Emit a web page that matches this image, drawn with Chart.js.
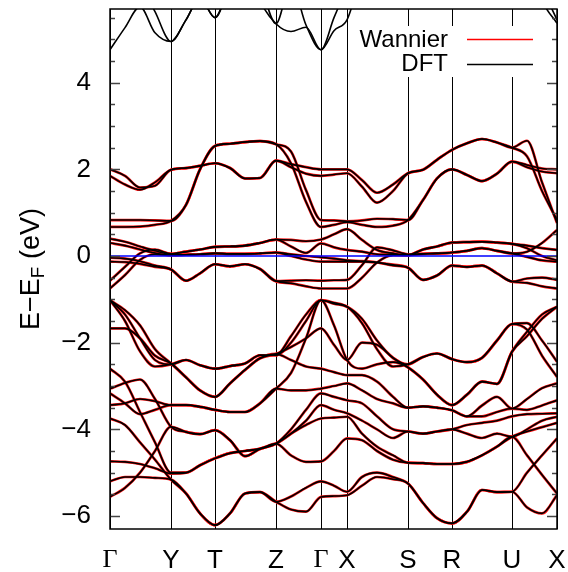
<!DOCTYPE html>
<html>
<head>
<meta charset="utf-8">
<script src="https://cdn.jsdelivr.net/npm/chart.js@4.4.1/dist/chart.umd.min.js"></script>
<style>
  html, body { margin: 0; padding: 0; background: #fff; }
</style>
</head>
<body>
<canvas id="bands" width="568" height="572"></canvas>
<script>
// high symmetry points along the k-path
const kLabels = ["Γ", "Y", "T", "Z", "Γ", "X", "S", "R", "U", "X"];
const kTicks = [0, 61, 105, 166, 211, 237, 298, 342, 402, 447];
const yTicks = [-6, -4, -2, 0, 2, 4];

// k positions where energies were read (Γ-Y | Y-T | T-Z | Z-Γ | Γ-X | X-S | S-R | R-U | U-X)
const kGrid = [0,15,30,45,61, 76,90,105, 120,135,150,166, 181,196,211, 224,237, 252,267,283,298, 313,327,342, 357,372,387,402, 417,432,447];

// conduction bands (eV)
const U1 = [2.00,1.85,1.58,1.62,1.99, 2.03,2.08,2.14, 2.03,1.79,1.80,2.20, 2.12,2.05,2.00, 2.00,2.00, 1.75,1.46,1.65,1.91, 1.99,2.22,2.45, 2.60,2.70,2.62,2.50, 2.66,1.70,0.76];
const U2 = [1.85,1.65,1.53,1.70,1.99, 2.03,2.08,2.14, 2.03,1.79,1.80,2.20, 2.05,1.90,1.85, 1.88,1.91, 1.60,1.23,1.50,1.91, 1.99,2.22,2.45, 2.60,2.70,2.62,2.50, 2.30,1.50,0.83];
const C1 = [0.83,0.83,0.83,0.82,0.81, 1.18,2.00,2.54, 2.59,2.63,2.65,2.58, 2.41,1.52,0.83, 0.82,0.80, 0.82,0.86,0.85,0.83, 1.29,1.79,2.00, 1.87,1.73,1.90,2.18, 2.10,2.02,2.00];
const C2 = [0.67,0.67,0.68,0.72,0.81, 1.18,2.00,2.54, 2.59,2.63,2.65,2.58, 2.14,1.25,0.67, 0.72,0.78, 0.72,0.67,0.70,0.83, 1.29,1.79,2.00, 1.87,1.73,1.90,2.18, 2.05,1.95,1.91];

// bands around the Fermi level
const N1 = [0.40,0.33,0.22,0.12,0.05, 0.10,0.15,0.21, 0.22,0.24,0.30,0.38, 0.37,0.34,0.38, 0.50,0.62, 0.37,0.14,0.06,0.02, 0.15,0.22,0.31, 0.32,0.33,0.31,0.28, 0.24,0.18,0.14];
const N2 = [0.30,0.24,0.15,0.07,0.02, 0.03,0.04,0.06, 0.05,0.05,0.06,0.08, 0.04,0.00,-0.03, -0.06,-0.10, -0.12,-0.15,-0.22,-0.27, -0.55,-0.45,-0.22, -0.25,-0.22,-0.40,-0.59, -0.52,-0.50,-0.55];
const N3 = [-0.04,-0.06,-0.12,-0.22,-0.31, -0.57,-0.40,-0.19, -0.24,-0.19,-0.30,-0.58, -0.57,-0.56,-0.57, -0.56,-0.55, -0.21,0.20,0.13,0.04, 0.05,0.06,0.08, 0.12,0.18,0.12,0.06, 0.10,0.30,0.60];
const N4 = [-0.13,-0.14,-0.18,-0.25,-0.31, -0.57,-0.40,-0.19, -0.24,-0.19,-0.30,-0.58, -0.63,-0.70,-0.75, -0.75,-0.75, -0.50,-0.15,0.02,0.02, 0.05,0.06,0.08, 0.12,0.18,0.12,0.06, -0.02,-0.10,-0.13];
const N5 = [-0.57,-0.25,0.06,0.15,0.05, 0.10,0.15,0.21, 0.22,0.24,0.30,0.38, 0.22,0.07,0.29, 0.20,0.14, 0.10,0.04,0.03,0.02, 0.15,0.22,0.31, 0.32,0.33,0.31,0.28, 0.18,0.00,-0.10];
const N6 = [-0.75,-0.44,-0.09,0.04,0.02, 0.03,0.04,0.06, 0.05,0.05,0.06,0.08, 0.00,-0.08,-0.13, -0.13,-0.13, -0.13,-0.15,-0.20,-0.27, -0.55,-0.45,-0.22, -0.25,-0.22,-0.40,-0.59, -0.62,-0.70,-0.75];

// valence bands
const VA = [-1.02,-1.35,-1.90,-2.40,-2.50, -2.40,-2.52,-2.60, -2.54,-2.48,-2.29,-2.29, -2.00,-1.50,-1.02, -1.10,-1.17, -1.45,-1.95,-2.35,-2.50, -2.33,-2.25,-2.38, -2.45,-2.35,-1.95,-1.57, -1.55,-1.95,-2.44];
const VB = [-1.02,-1.50,-2.20,-2.55,-2.50, -2.40,-2.52,-2.60, -2.54,-2.48,-2.29,-2.29, -1.85,-1.35,-1.02, -1.08,-1.17, -1.55,-2.15,-2.55,-2.50, -2.33,-2.25,-2.38, -2.45,-2.35,-1.95,-1.57, -1.70,-2.30,-2.79];
const VC = [-1.02,-1.25,-1.60,-2.15,-2.48, -2.80,-3.10,-3.25, -2.94,-2.63,-2.36,-2.26, -2.10,-1.90,-1.67, -2.05,-2.40, -2.00,-2.05,-2.35,-2.57, -2.85,-3.20,-3.44, -3.20,-2.90,-2.95,-2.21, -1.85,-1.45,-1.17];
const VD = [-1.67,-1.67,-1.90,-2.30,-2.48, -2.80,-3.10,-3.25, -2.94,-2.63,-2.36,-2.26, -2.40,-2.55,-2.60, -2.68,-2.75, -2.75,-2.90,-3.25,-3.50, -3.47,-3.50,-3.56, -3.70,-3.45,-3.25,-3.52, -3.30,-3.05,-2.94];
const VE = [-2.60,-2.90,-3.60,-4.30,-5.00, -5.00,-4.83,-4.67, -4.55,-4.50,-4.45,-4.33, -4.10,-3.90,-3.75, -3.73,-3.71, -4.10,-4.40,-4.60,-4.77, -4.78,-4.80,-4.80, -4.75,-4.60,-4.40,-4.17, -4.60,-5.05,-5.48];
const VF = [-3.06,-2.93,-2.85,-3.30,-3.94, -4.06,-4.11,-4.02, -4.25,-4.62,-4.45,-4.33, -4.00,-3.55,-3.17, -3.25,-3.33, -3.40,-3.70,-4.00,-4.05, -4.10,-4.05,-4.00, -3.90,-3.85,-3.80,-3.70, -3.65,-3.64,-3.63];
const VG = [-3.17,-3.40,-3.65,-3.55,-3.44, -3.44,-3.48,-3.55, -3.60,-3.60,-3.40,-3.06, -2.70,-1.90,-1.02, -1.60,-2.40, -2.60,-2.50,-2.45,-2.57, -2.85,-3.20,-3.44, -3.20,-2.90,-2.95,-2.21, -1.75,-1.35,-1.17];
const VH = [-3.44,-3.40,-3.30,-3.35,-3.44, -3.44,-3.48,-3.55, -3.60,-3.60,-3.40,-3.06, -3.10,-3.10,-3.06, -3.00,-2.94, -3.10,-3.30,-3.40,-3.50, -3.47,-3.50,-3.56, -3.70,-3.70,-3.60,-3.52, -3.55,-3.45,-3.33];
const VI = [-3.75,-3.90,-4.30,-4.70,-5.16, -5.48,-5.94,-6.21, -5.94,-5.48,-5.45,-5.67, -5.85,-5.90,-5.56, -5.54,-5.52, -5.30,-5.10,-5.15,-5.25, -5.70,-6.05,-6.17, -5.90,-5.40,-5.45,-5.44, -5.80,-5.94,-5.52];
const VJ = [-4.74,-4.75,-4.80,-4.90,-5.02, -5.00,-4.83,-4.67, -4.55,-4.50,-4.45,-4.33, -4.60,-4.75,-4.74, -4.50,-4.21, -4.25,-4.50,-4.70,-4.77, -4.78,-4.80,-4.80, -4.75,-4.60,-4.40,-4.17, -4.05,-3.95,-3.85];
const VK = [-5.20,-5.10,-5.10,-5.12,-5.16, -5.48,-5.94,-6.21, -5.94,-5.48,-5.45,-5.67, -5.55,-5.35,-5.20, -5.30,-5.44, -5.10,-5.00,-5.10,-5.25, -5.70,-6.05,-6.17, -5.90,-5.40,-5.45,-5.44, -5.00,-4.60,-4.21];
const VL = [-5.56,-5.35,-5.00,-4.50,-3.94, -4.06,-4.11,-4.02, -4.25,-4.62,-4.45,-4.33, -4.10,-3.80,-3.44, -3.55,-3.63, -3.80,-4.00,-4.20,-4.05, -4.10,-4.05,-4.00, -4.10,-4.20,-4.10,-4.17, -4.00,-3.80,-3.71];

// high DFT bands (no Wannier counterpart), values above the frame get clipped
const H1 = [4.76,5.27,5.75,5.15,4.95, 5.45,5.95,5.50, 6.30,7.00,5.90,5.36, 5.18,5.28,4.76, 5.50,6.20, 7,7,7,7, 7,7,7, 7,7,7,7, 7,5.90,5.37];
const H2 = [7.00,7.00,6.30,5.64,4.95, 5.45,5.95,5.50, 6.30,7.00,6.30,5.36, 6.30,5.33,4.76, 5.20,5.45, 6.50,7,7,7, 7,7,7, 7,7,7,7, 7,6.20,5.45];

const wannierBands = [U1, U2, C1, C2, N1, N2, N3, N4, N5, N6, VA, VB, VC, VD, VE, VF, VG, VH, VI, VJ, VK, VL];
const dftBands = [...wannierBands, H1, H2];

const SANS = "'Liberation Sans', Arial, sans-serif";
const SERIF = "'Liberation Serif', 'Times New Roman', serif";

const toPts = arr => arr.map((e, i) => ({ x: kGrid[i], y: e }));

function bandSet(arr, color, width, order) {
  return {
    data: toPts(arr),
    borderColor: color,
    borderWidth: width,
    pointRadius: 0,
    cubicInterpolationMode: "monotone",
    fill: false,
    order
  };
}

const datasets = [
  {
    data: [{ x: 0, y: 0 }, { x: 447, y: 0 }],
    borderColor: "#0000ff",
    borderWidth: 1.3,
    pointRadius: 0,
    order: 0
  },
  ...dftBands.map(b => bandSet(b, "#000000", 1.6, 1)),
  ...wannierBands.map(b => bandSet(b, "#ff1010", 2.7, 2))
];

// frame and inner ticks on both sides
const framePlugin = {
  id: "frame",
  afterDatasetsDraw(chart) {
    const { ctx, chartArea: a, scales: { y } } = chart;
    ctx.save();
    ctx.strokeStyle = "#444";
    ctx.lineWidth = 1.5;
    for (let v = -6; v <= 5.5; v += 0.5) {
      const py = Math.round(y.getPixelForValue(v)) + 0.5;
      const len = Number.isInteger(v / 2) ? 10 : 5;
      ctx.beginPath();
      ctx.moveTo(a.left, py); ctx.lineTo(a.left + len, py);
      ctx.moveTo(a.right, py); ctx.lineTo(a.right - len, py);
      ctx.stroke();
    }
    ctx.strokeStyle = "#000";
    ctx.lineWidth = 1.5;
    ctx.strokeRect(a.left, a.top, a.right - a.left, a.bottom - a.top);
    ctx.restore();
  }
};

// legend box at top right, gnuplot style (text then sample)
const legendPlugin = {
  id: "keyBox",
  afterDraw(chart) {
    const ctx = chart.ctx;
    ctx.save();
    ctx.fillStyle = "#fff";
    ctx.fillRect(354, 26, 186, 51);
    ctx.font = "24px " + SANS;
    ctx.fillStyle = "#000";
    ctx.textAlign = "right";
    ctx.textBaseline = "middle";
    ctx.fillText("Wannier", 448, 40);
    ctx.fillText("DFT", 448, 64);
    ctx.lineWidth = 1.3;
    ctx.strokeStyle = "#ff0000";
    ctx.beginPath(); ctx.moveTo(467, 39.5); ctx.lineTo(533, 39.5); ctx.stroke();
    ctx.strokeStyle = "#000";
    ctx.beginPath(); ctx.moveTo(467, 64.5); ctx.lineTo(533, 64.5); ctx.stroke();
    ctx.restore();
  }
};

// rotated y title with subscript F
const yTitlePlugin = {
  id: "yTitle",
  afterDraw(chart) {
    const ctx = chart.ctx;
    const big = "27px " + SANS, small = "19px " + SANS;
    const parts = [["E\u2212E", big, 0], ["F", small, 7], [" (eV)", big, 0]];
    ctx.save();
    ctx.translate(32, 269);
    ctx.rotate(-Math.PI / 2);
    ctx.fillStyle = "#000";
    ctx.textBaseline = "middle";
    ctx.textAlign = "left";
    let total = 0;
    parts.forEach(p => { ctx.font = p[1]; total += ctx.measureText(p[0]).width; });
    let x = -total / 2;
    parts.forEach(p => {
      ctx.font = p[1];
      ctx.fillText(p[0], x, p[2]);
      x += ctx.measureText(p[0]).width;
    });
    ctx.restore();
  }
};

new Chart(document.getElementById("bands"), {
  type: "line",
  data: { datasets },
  options: {
    responsive: false,
    animation: false,
    devicePixelRatio: 1,
    layout: { padding: { top: 9, right: 11, left: 0, bottom: 0 } },
    plugins: { legend: { display: false }, tooltip: { enabled: false } },
    scales: {
      x: {
        type: "linear",
        min: 0,
        max: 447,
        afterBuildTicks: s => { s.ticks = kTicks.map(v => ({ value: v })); },
        afterFit: s => { s.height = 43; s.paddingLeft = 0; s.paddingRight = 0; },
        grid: { color: "#000", lineWidth: 1, drawTicks: false },
        border: { display: false },
        ticks: {
          autoSkip: false,
          maxRotation: 0,
          minRotation: 0,
          padding: 16,
          color: "#000",
          font: c => ({ family: kLabels[c.index] === "Γ" ? SERIF : SANS, size: 26 }),
          callback: (v, i) => kLabels[i]
        }
      },
      y: {
        type: "linear",
        min: -6.3,
        max: 5.7,
        afterBuildTicks: s => { s.ticks = yTicks.map(v => ({ value: v })); },
        afterFit: s => { s.width = 110; s.paddingTop = 0; s.paddingBottom = 0; },
        grid: { display: false, drawTicks: false },
        border: { display: false },
        ticks: {
          padding: 19,
          color: "#000",
          font: { family: SANS, size: 26 },
          callback: v => (v < 0 ? "\u2212" + Math.abs(v) : String(v))
        }
      }
    }
  },
  plugins: [framePlugin, legendPlugin, yTitlePlugin]
});
</script>
</body>
</html>
